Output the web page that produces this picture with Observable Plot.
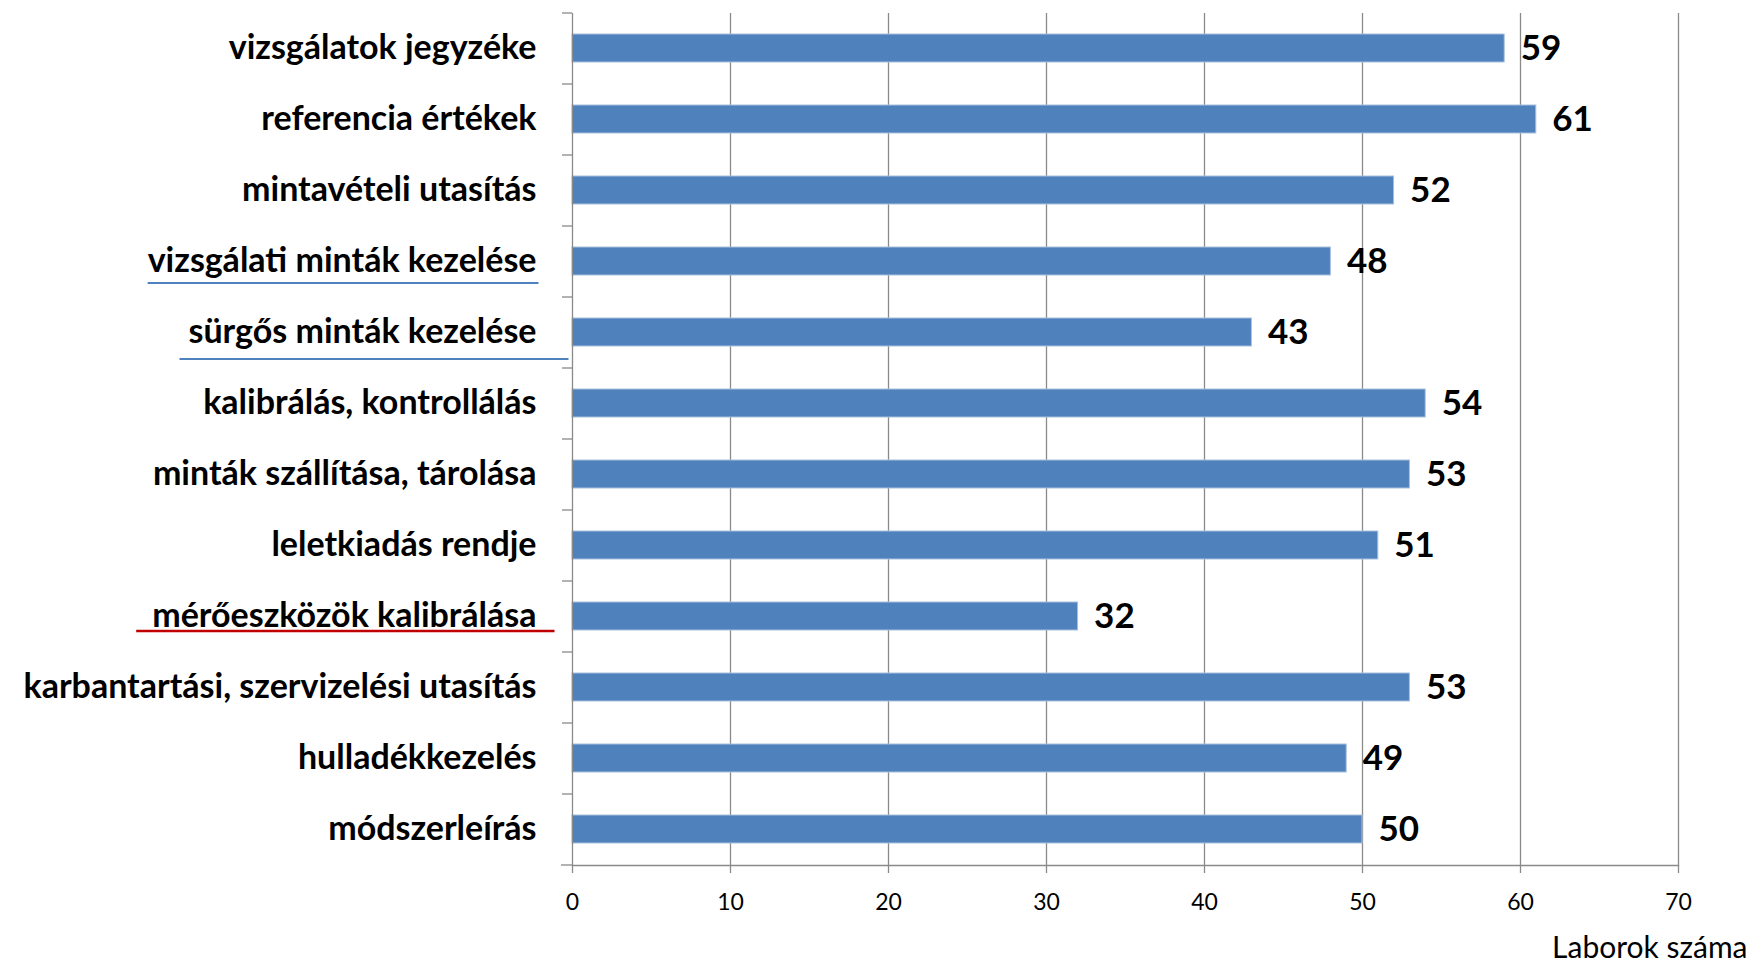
<!DOCTYPE html>
<html>
<head>
<meta charset="utf-8">
<script src="https://cdn.jsdelivr.net/npm/d3@7"></script>
<script src="https://cdn.jsdelivr.net/npm/@observablehq/plot@0.6"></script>
<style>
  html, body { margin: 0; padding: 0; background: #ffffff; }
  #chart { width: 1748px; height: 962px; position: relative; }
</style>
</head>
<body>
<div id="chart"></div>
<script>
// ---- data ----
const categories = [
  "vizsgálatok jegyzéke",
  "referencia értékek",
  "mintavételi utasítás",
  "vizsgálati minták kezelése",
  "sürgős minták kezelése",
  "kalibrálás, kontrollálás",
  "minták szállítása, tárolása",
  "leletkiadás rendje",
  "mérőeszközök kalibrálása",
  "karbantartási, szervizelési utasítás",
  "hulladékkezelés",
  "módszerleírás"
];
const values = [59, 61, 52, 48, 43, 54, 53, 51, 32, 53, 49, 50];
const xTicks = [0, 10, 20, 30, 40, 50, 60, 70];
const xLabel = "Laborok száma";

// underline annotations under some category labels (style config)
const underlines = [
  { label: "vizsgálati minták kezelése", color: "#4F81BD", padLeft: 0, padRight: 2, offset: 22, width: 2 },
  { label: "sürgős minták kezelése", color: "#4F81BD", padLeft: 9, padRight: 32, offset: 27, width: 2 },
  { label: "mérőeszközök kalibrálása", color: "#C00000", padLeft: 16, padRight: 18, offset: 15, width: 2.5 }
];

// ---- build ----
const data = categories.map((c, i) => ({ category: c, value: values[i] }));
const W = 1748, H = 962, ML = 572, MR = 70, MT = 13, MB = 97;
const step = (H - MT - MB) / categories.length;
const gray = "#8a8a8a";

const chart = Plot.plot({
  width: W,
  height: H,
  marginLeft: ML,
  marginRight: MR,
  marginTop: MT,
  marginBottom: MB,
  style: { fontFamily: "Lato, 'Open Sans', sans-serif", background: "#ffffff", color: "#000" },
  x: { domain: [0, 70], ticks: xTicks },
  y: { domain: categories, paddingInner: 0.6, paddingOuter: 0.3, align: 0.5 },
  marks: [
    Plot.gridX(xTicks.filter(t => t > 0), { stroke: gray, strokeOpacity: 1, strokeWidth: 1.3 }),
    Plot.barX(data, { x: "value", y: "category", fill: "#4F81BD", stroke: "#a9c0de", strokeWidth: 1 }),
    Plot.text(data, {
      x: "value", y: "category", text: d => String(d.value),
      textAnchor: "start", dx: 16, fontSize: 35, fontWeight: "bold", fill: "#000"
    }),
    Plot.ruleX([0], { stroke: gray, strokeWidth: 1.3 }),
    Plot.frame({ anchor: "bottom", stroke: gray, strokeWidth: 1.3 }),
    Plot.axisX({
      ticks: xTicks, tickSize: 8, tickPadding: 20, fontSize: 23,
      label: null, stroke: gray, strokeWidth: 1.3, fill: "#000"
    }),
    Plot.axisY({
      tickSize: 0, tickPadding: 36, fontSize: 34, fontWeight: "bold",
      label: null, fill: "#000"
    }),
    // band-boundary ticks on the y axis
    Plot.axisY({
      tickSize: 10, tickFormat: () => "", label: null,
      dy: -step / 2, stroke: gray, strokeWidth: 1.3
    }),
    Plot.axisY({
      ticks: [categories[categories.length - 1]], tickSize: 11, tickFormat: () => "",
      label: null, dy: step / 2, stroke: gray, strokeWidth: 1.3
    }),
    Plot.text([xLabel], {
      frameAnchor: "bottom-right", textAnchor: "end", lineAnchor: "bottom",
      dx: MR - 1, dy: 92, fontSize: 30, fill: "#000"
    })
  ]
});

document.getElementById("chart").appendChild(chart);

// ---- underline annotations, placed from the rendered label boxes ----
const yScale = chart.scale("y");
const svgRect = chart.getBoundingClientRect();
const svgSel = d3.select(chart);
const texts = Array.from(chart.querySelectorAll("text"));
for (const u of underlines) {
  const t = texts.find(el => el.textContent === u.label);
  if (!t) continue;
  const r = t.getBoundingClientRect();
  const i = categories.indexOf(u.label);
  const center = (yScale && typeof yScale.apply === "function")
    ? yScale.apply(u.label) + (yScale.bandwidth || 0) / 2
    : MT + step * (i + 0.5);
  const y = center + u.offset;
  svgSel.append("line")
    .attr("x1", r.left - svgRect.left - u.padLeft)
    .attr("x2", r.right - svgRect.left + u.padRight)
    .attr("y1", y).attr("y2", y)
    .attr("stroke", u.color)
    .attr("stroke-width", u.width);
}
</script>
</body>
</html>
